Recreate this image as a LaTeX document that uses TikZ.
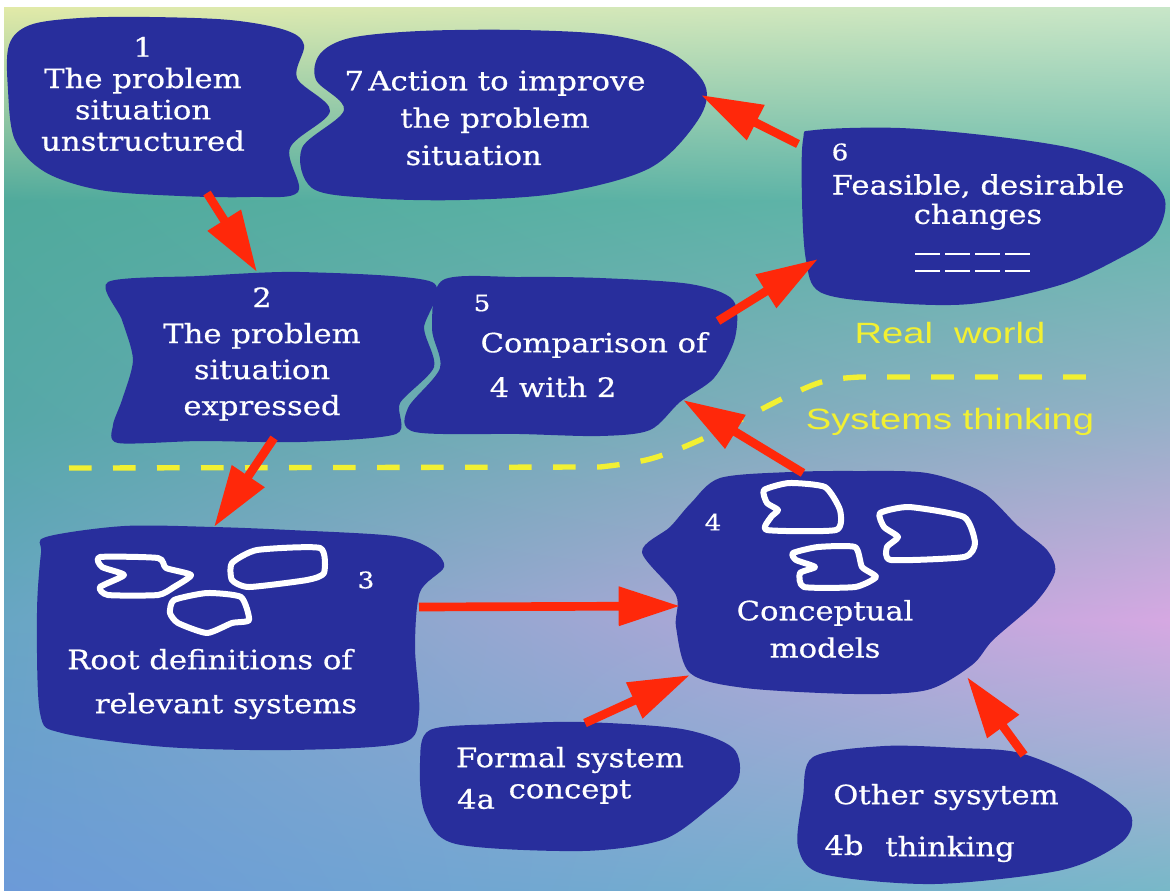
\documentclass[tikz,border=0pt]{standalone}
\usepackage{fontspec}
\newfontfamily\blobfont[FakeStretch=1.15,FakeBold=0.6]{DejaVu Serif}
\newfontfamily\zonefont[FakeStretch=1.3]{Liberation Sans}
\usetikzlibrary{arrows.meta,shadings}
\definecolor{blobblue}{RGB}{40,46,156}
\definecolor{arrowred}{RGB}{255,40,10}
\definecolor{zoneyellow}{RGB}{242,240,50}
\definecolor{bgA}{RGB}{226,234,168}
\definecolor{bgB}{RGB}{200,230,200}
\definecolor{bgC}{RGB}{80,170,156}
\definecolor{bgD}{RGB}{100,184,172}
\definecolor{bgE}{RGB}{86,168,168}
\definecolor{bgF}{RGB}{150,176,200}
\definecolor{bgG}{RGB}{104,166,196}
\definecolor{bgH}{RGB}{214,168,226}
\definecolor{bgI}{RGB}{108,154,216}
\definecolor{bgJ}{RGB}{120,184,200}
\begin{document}
\begin{tikzpicture}[x=0.75pt,y=-0.75pt,
  blob/.style={fill=blobblue},
  cloud/.style={draw=white,line width=4.5pt,line join=round},
  redarrow/.style={draw=arrowred,line width=6.5pt,-{Triangle[length=46pt,width=28pt]}},
  btext/.style={text=white,font=\blobfont\fontsize{20}{25}\selectfont,inner sep=0pt,align=center},
  bnum/.style={text=white,font=\blobfont\fontsize{17}{20}\selectfont,inner sep=0pt},
  ytext/.style={text=zoneyellow,font=\zonefont\fontsize{22}{26}\selectfont,inner sep=0pt},
  zoneline/.style={draw=zoneyellow,line width=4pt,dash pattern=on 17pt off 16pt}]
\useasboundingbox (0,0) rectangle (1170,890);
\fill[white] (0,0) rectangle (1170,890);
% background bands
\shade[upper left=bgA,upper right=bgB,lower left=bgC,lower right=bgD] (4,7) rectangle (1170,201);
\shade[upper left=bgC,upper right=bgD,lower left=bgE,lower right=bgF] (4,200) rectangle (1170,421);
\shade[upper left=bgE,upper right=bgF,lower left=bgG,lower right=bgH] (4,420) rectangle (1170,621);
\shade[upper left=bgG,upper right=bgH,lower left=bgI,lower right=bgJ] (4,620) rectangle (1170,890);

% boundary between real world and systems thinking
\draw[zoneline] (69,468) -- (600,467) -- plot[smooth,tension=0.6] coordinates {(600,467) (650,459) (700,440) (750,415) (790,395) (825,381) (860,377)} -- (1100,377);
\node[ytext] (rw) at (950,333) {Real\ \ world};
\node[ytext] (st) at (950,422) {Systems thinking};

% blobs
\path[blob] plot[smooth cycle,tension=0.55] coordinates {(9,45) (30,25) (80,18) (150,17) (230,20) (285,30) (304,45) (297,78) (330,111) (290,148) (298,192) (250,197) (180,196) (100,190) (45,172) (15,140) (8,90)};
\path[blob] plot[smooth cycle,tension=0.55] coordinates {(320,54) (350,38) (420,31) (520,30) (610,35) (670,52) (705,85) (698,120) (650,168) (560,193) (460,200) (370,198) (312,188) (302,148) (344,110) (316,80)};
\path[blob] plot[smooth cycle,tension=0.55] coordinates {(803,140) (815,130) (900,128) (1000,137) (1080,150) (1140,172) (1165,200) (1155,235) (1120,258) (1060,285) (970,304) (880,302) (820,292) (806,260) (802,200)};
\path[blob] plot[smooth cycle,tension=0.45] coordinates {(108,282) (200,276) (300,272) (432,282) (424,328) (434,367) (400,403) (396,434) (300,442) (200,441) (118,443) (113,425) (122,400) (133,360) (122,320)};
\path[blob] plot[smooth cycle,tension=0.5] coordinates {(443,280) (520,277) (600,278) (690,284) (733,300) (735,338) (714,378) (680,402) (650,430) (600,436) (520,434) (415,432) (408,408) (440,368) (432,328)};
\path[blob] plot[smooth cycle,tension=0.5] coordinates {(46,537) (124,526) (214,527) (290,530) (394,536) (431,549) (444,567) (420,592) (415,647) (419,713) (402,743) (290,750) (166,747) (62,733) (40,713) (37,613) (41,553)};
\path[blob] plot[smooth cycle,tension=0.5] coordinates {(691,503) (720,478) (790,472) (855,471) (927,473) (982,492) (1018,526) (1047,550) (1055,572) (1036,602) (993,640) (972,665) (927,690) (855,694) (745,688) (690,673) (676,627) (676,595) (642,552) (670,527)};
\path[blob] plot[smooth cycle,tension=0.5] coordinates {(430,730) (500,724) (582,722) (682,729) (733,748) (738,780) (707,810) (662,840) (582,851) (456,844) (425,813) (420,763)};
\path[blob] plot[smooth cycle,tension=0.5] coordinates {(813,757) (884,746) (960,748) (1020,753) (1085,780) (1130,813) (1122,842) (1062,870) (934,884) (823,874) (798,847) (803,797)};

% small system outlines inside root definitions
\draw[cloud] plot[smooth cycle,tension=0.35] coordinates {(100,557) (158,558) (166,568) (191,575) (174,587) (158,595) (108,595) (100,587) (124,575) (102,567)};
\draw[cloud] plot[smooth cycle,tension=0.35] coordinates {(232,563) (257,550) (320,548) (324,573) (307,580) (249,587) (232,580)};
\draw[cloud] plot[smooth cycle,tension=0.35] coordinates {(174,600) (207,593) (241,597) (249,620) (232,623) (207,633) (178,623) (170,613)};
% small system outlines inside conceptual models
\draw[cloud] plot[smooth cycle,tension=0.35] coordinates {(764,490) (789,483) (825,487) (840,510) (836,530) (767,530) (771,517) (778,510) (767,503)};
\draw[cloud] plot[smooth cycle,tension=0.35] coordinates {(880,513) (909,507) (964,517) (975,543) (964,557) (891,560) (887,547) (898,537) (884,527)};
\draw[cloud] plot[smooth cycle,tension=0.35] coordinates {(793,553) (818,547) (855,547) (862,567) (876,577) (855,587) (804,587) (800,573) (815,567) (796,560)};

% change marks
\foreach \i in {0,...,3} {
  \draw[white,line width=2pt] ({915+30*\i},254) -- ++(25,0);
  \draw[white,line width=2pt] ({915+30*\i},271) -- ++(25,0);
}

% texts
\node[btext,font=\blobfont\fontsize{20}{23.5}\selectfont] (t1) at (143,94) {1\\The problem\\situation\\unstructured};
\node[btext,font=\blobfont\fontsize{20}{28}\selectfont] (t7) at (495,118) {7\,Action to improve\\the problem\\situation\hspace*{1.6em}};
\node[bnum] (n6) at (840,152) {6};
\node[btext,font=\blobfont\fontsize{20}{22}\selectfont] (t6) at (978,202) {Feasible, desirable\\changes};
\node[btext,font=\blobfont\fontsize{20}{27}\selectfont] (t2) at (262,354) {2\\The problem\\situation\\expressed};
\node[bnum] (n5) at (482,303) {5};
\node[btext] (t5a) at (594,345) {Comparison of};
\node[btext] (t5b) at (553,387) {4 with 2};
\node[bnum] (n3) at (366,580) {3};
\node[btext,font=\blobfont\fontsize{20}{33}\selectfont] (t3) at (210,684) {Root definitions of\\\hspace*{1.2em}relevant systems};
\node[bnum] (n4) at (713,522) {4};
\node[btext,font=\blobfont\fontsize{20}{28}\selectfont] (t4) at (825,629) {Conceptual\\models};
\node[btext] (t4a) at (570,760) {Formal system};
\node[btext] (n4a) at (476,799) {4a};
\node[btext] (t4a2) at (570,792) {concept};
\node[btext] (t4b) at (946,797) {Other sysytem};
\node[btext] (n4b) at (844,845) {4b};
\node[btext] (t4b2) at (950,849) {thinking};

% connector end points
\coordinate (a1s) at (207,193); \coordinate (a1e) at (257,272);
\coordinate (a2s) at (274,438); \coordinate (a2e) at (214,527);
\coordinate (a3s) at (419,607); \coordinate (a3e) at (680,606);
\coordinate (a4s) at (585,723); \coordinate (a4e) at (690,675);
\coordinate (a5s) at (1024,755); \coordinate (a5e) at (967,677);
\coordinate (a6s) at (803,473); \coordinate (a6e) at (683,400);
\coordinate (a7s) at (718,321); \coordinate (a7e) at (818,259);
\coordinate (a8s) at (798,144); \coordinate (a8e) at (701,95);

\draw[redarrow] (a1s) -- (a1e);
\draw[redarrow] (a2s) -- (a2e);
\draw[redarrow] (a3s) -- (a3e);
\draw[redarrow] (a4s) -- (a4e);
\draw[redarrow] (a5s) -- (a5e);
\draw[redarrow] (a6s) -- (a6e);
\draw[redarrow] (a7s) -- (a7e);
\draw[redarrow] (a8s) -- (a8e);
\end{tikzpicture}
\end{document}
